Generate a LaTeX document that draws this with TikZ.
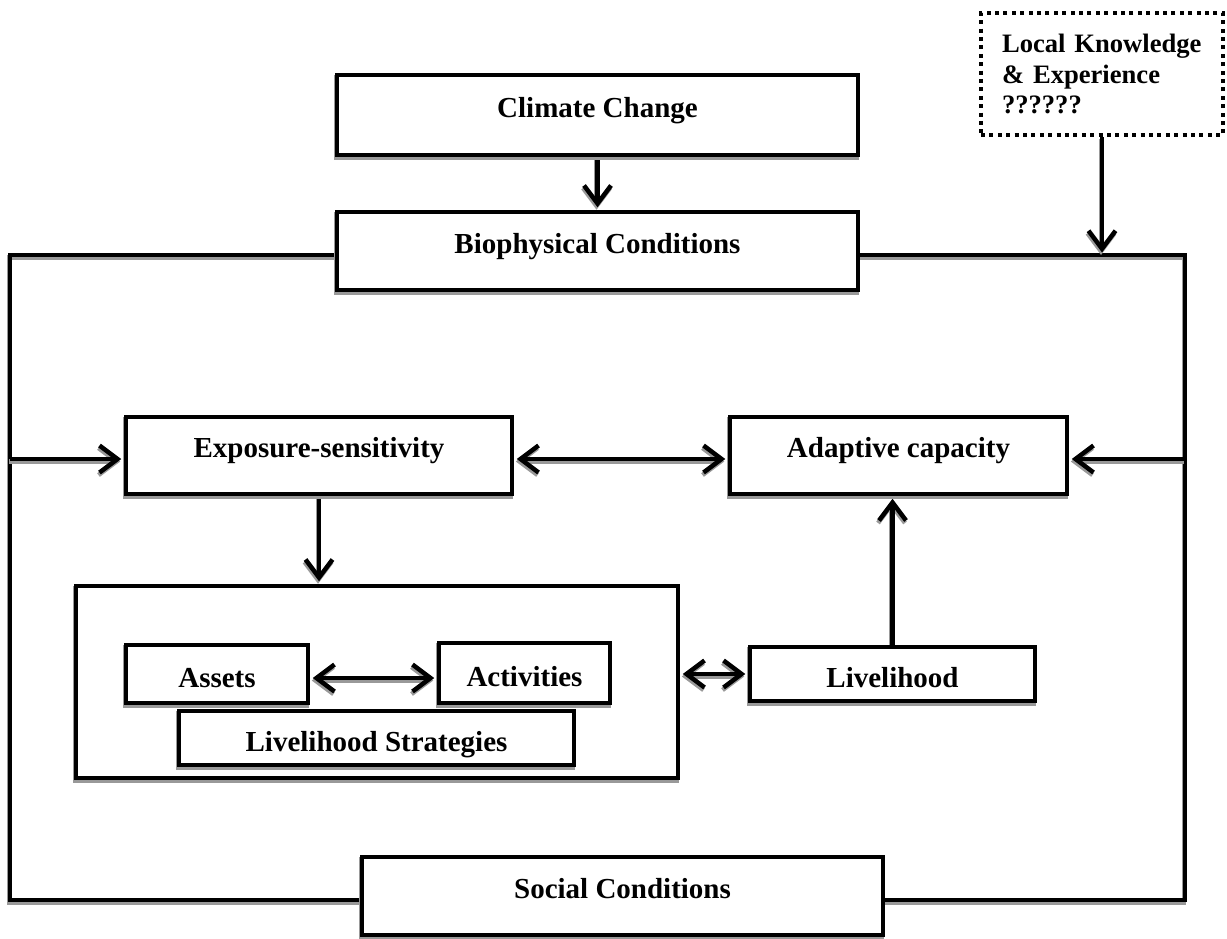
\documentclass[tikz,border=0pt]{standalone}
\usepackage{fontspec}
\setmainfont{Liberation Serif}
\usetikzlibrary{arrows.meta}
\pgfdeclarelayer{bg}
\pgfsetlayers{bg,main}
\begin{document}
\begin{tikzpicture}[x=1pt,y=-1pt,
  lw/.style={line width=4.5pt},
  shd/.style={preaction={draw=black!40, line width=4.5pt, transform canvas={shift={(-1pt,-2.5pt)}}}},
  box/.style={draw, lw, fill=white, shd, inner sep=0pt,
    font=\fontsize{29}{34}\selectfont\bfseries, text height=7pt, text depth=2.2pt},
  sbox/.style={box, text height=27pt, text depth=0pt},
  con/.style={lw, shd, -{Straight Barb[length=18pt,width=27pt]}, shorten >=2.5pt},
  dcon/.style={lw, shd, {Straight Barb[length=18pt,width=27pt]}-{Straight Barb[length=18pt,width=27pt]}, shorten >=2.5pt, shorten <=2.5pt},
  frame/.style={lw, shd},
  lkbox/.style={draw, line width=4pt, dash pattern=on 4pt off 4.4pt, fill=white,
    align=left, text width=200pt, inner xsep=21pt, minimum height=122pt,
    font=\fontsize{26.6}{30.5}\selectfont\bfseries}
]
\useasboundingbox (0,0) rectangle (1227,939);

% boxes
\node[box, minimum width=521pt, minimum height=80pt] (cc) at (597.5,115) {Climate Change};
\node[box, minimum width=521pt, minimum height=78pt] (bio) at (597.5,251) {Biophysical Conditions};
\node[box, minimum width=386pt, minimum height=77pt] (es) at (319,455.5) {Exposure-sensitivity};
\node[box, minimum width=337pt, minimum height=77pt] (ac) at (898.5,455.5) {Adaptive capacity};
\node[box, minimum width=602pt, minimum height=192pt] (inner) at (377,682) {};
\node[sbox, minimum width=182pt, minimum height=58pt] (as) at (217,674) {Assets};
\node[sbox, minimum width=171pt, minimum height=60pt] (act) at (524.5,673) {Activities};
\node[sbox, minimum width=395pt, minimum height=54pt] (ls) at (376.5,738) {Livelihood Strategies};
\node[sbox, minimum width=285pt, minimum height=54pt] (lh) at (892.5,674) {Livelihood};
\node[box, minimum width=521pt, minimum height=78pt] (soc) at (622.5,896) {Social Conditions};
\node[lkbox] (lk) at (1102,74) {Local Knowledge\\\& Experience\\??????};

% frame corners
\coordinate (ftl) at (10,255);
\coordinate (ftr) at (1185,255);
\coordinate (fbl) at (10,900);
\coordinate (fbr) at (1185,900);
\coordinate (lf) at (10,459);
\coordinate (rf) at (1185,459);

\begin{pgfonlayer}{bg}
\draw[frame] (bio.west |- ftl) -- (ftl) -- (fbl) -- (soc.west |- fbl);
\draw[frame] (bio.east |- ftr) -- (ftr) -- (fbr) -- (soc.east |- fbr);
\draw[con] (cc.south) -- (bio.north);
\draw[con] (lk.south) -- (lk.south |- ftl);
\draw[con] (lf) -- (lf -| es.west);
\draw[con] (rf) -- (rf -| ac.east);
\draw[dcon] (lf -| es.east) -- (lf -| ac.west);
\draw[con] (es.south) -- (es.south |- inner.north);
\draw[con] (lh.north) -- (lh.north |- ac.south);
\draw[dcon] (lh.west -| inner.east) -- (lh.west);
\end{pgfonlayer}
\draw[dcon] ([yshift=-4pt]as.east) -- ([yshift=-4pt]as.east -| act.west);
\end{tikzpicture}
\end{document}
